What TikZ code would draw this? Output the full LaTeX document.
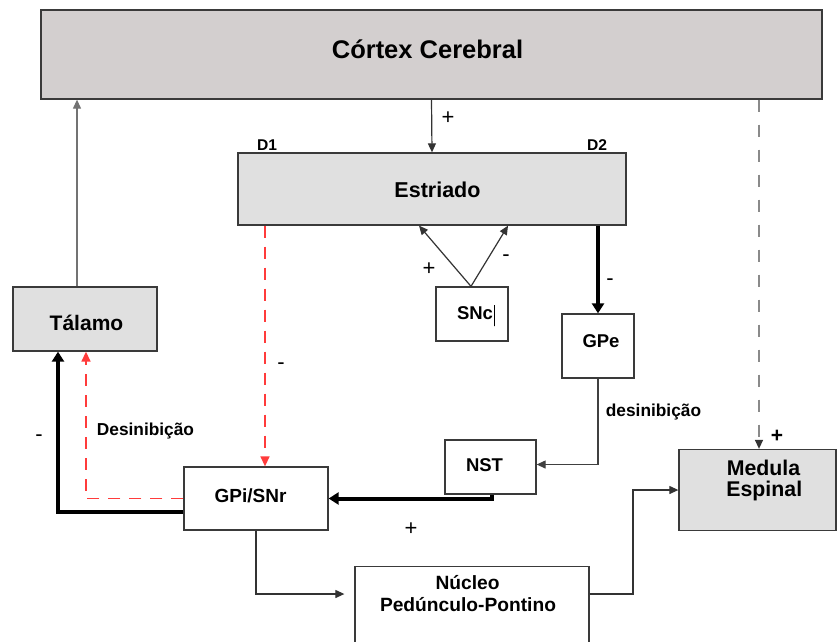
\documentclass[tikz,border=0pt]{standalone}
\usepackage{fontspec}
\setmainfont{Liberation Sans}
\usetikzlibrary{arrows.meta}
\definecolor{cortexgray}{HTML}{D3CFCF}
\definecolor{boxgray}{HTML}{E0E0E0}
\definecolor{bordergray}{HTML}{3A3A3A}
\definecolor{linegray}{HTML}{333333}
\definecolor{dashgray}{HTML}{8A8A8A}
\definecolor{redline}{HTML}{FF3B3B}
\tikzset{
  box/.style={draw=bordergray, line width=1.3pt, inner sep=0pt, fill=white},
  grbox/.style={box, fill=boxgray},
  txt/.style={inner sep=0pt, anchor=base, font=\bfseries\fontsize{19}{22}\selectfont},
  thinarr/.style={draw=linegray, line width=1.2pt, -{Triangle[length=9pt,width=8pt]}},
  thickarr/.style={draw=black, line width=4pt, -{Triangle[length=10pt,width=12pt]}},
  reddash/.style={draw=redline, line width=1.4pt, dash pattern=on 12pt off 9pt, -{Triangle[length=10pt,width=9pt]}},
  graydash/.style={draw=dashgray, line width=1.4pt, dash pattern=on 12pt off 13pt, -{Triangle[length=9pt,width=8pt,fill=black!80,color=black!80]}},
  sign/.style={font=\fontsize{22}{24}\selectfont, inner sep=0pt},
}
\begin{document}
\begin{tikzpicture}[x=1pt,y=-1pt]
\useasboundingbox (0,0) rectangle (837,641);
\fill[white] (0,0) rectangle (837,641);
% boxes
\node[box, fill=cortexgray, minimum width=781pt, minimum height=89pt] (cortex) at (431.5,54.5) {};
\node[grbox, minimum width=388pt, minimum height=72pt] (estr) at (432,189) {};
\node[grbox, minimum width=144pt, minimum height=64pt] (tal) at (85,319) {};
\node[box, minimum width=72pt, minimum height=54pt] (snc) at (472,314) {};
\node[box, minimum width=72pt, minimum height=64pt] (gpe) at (598,346) {};
\node[box, minimum width=91pt, minimum height=54pt] (nst) at (490.5,467) {};
\node[box, minimum width=144pt, minimum height=63pt] (gpi) at (256,498.5) {};
\node[box, minimum width=234pt, minimum height=92pt, anchor=north] (nuc) at (472,566) {};
\node[grbox, minimum width=157pt, minimum height=81pt] (med) at (757.5,490) {};
% texts
\node[txt, font=\bfseries\fontsize{25.5}{28}\selectfont] (cortext) at (427.5,58.3) {Córtex Cerebral};
\node[txt, font=\bfseries\fontsize{21.5}{24}\selectfont] (estrtext) at (437.5,197.7) {Estriado};
\node[txt, font=\bfseries\fontsize{21}{24}\selectfont] (taltext) at (86.5,330) {Tálamo};
\node[txt, font=\bfseries\fontsize{18.5}{22}\selectfont] (snctext) at (475,319) {SNc};
\node[draw=black, line width=0.8pt, inner sep=0pt, minimum width=0pt, minimum height=21pt] (cursor) at (494.5,315.5) {};
\node[txt, font=\bfseries\fontsize{18.5}{22}\selectfont] (gpetext) at (601,347.7) {GPe};
\node[txt, font=\bfseries\fontsize{18.5}{22}\selectfont] (nsttext) at (484.5,471.7) {NST};
\node[txt] (gpitext) at (250.5,502.7) {GPi/SNr};
\node[txt, font=\bfseries\fontsize{19.2}{22}\selectfont] (nuctexta) at (467.5,589) {Núcleo};
\node[txt, font=\bfseries\fontsize{19.2}{22}\selectfont] (nuctextb) at (468,611.7) {Pedúnculo-Pontino};
\node[txt, font=\bfseries\fontsize{21.3}{24}\selectfont] (medtexta) at (763.5,475) {Medula};
\node[txt, font=\bfseries\fontsize{21.3}{24}\selectfont] (medtextb) at (764.3,496.7) {Espinal};
% connectors
\coordinate (nucmid) at (472,594);
\coordinate (jn) at (633,490);
\draw[thinarr] (cortex.south) -- (estr.north);
\draw[thinarr, draw=black!55] ([xshift=-8pt]tal.north) -- ([xshift=-8pt]tal.north |- cortex.south);
\draw[graydash] ([xshift=1.5pt]med.north |- cortex.south) -- ([xshift=1.5pt]med.north);
\draw[thinarr] ([xshift=-1pt]snc.north) -- ([xshift=-13pt]estr.south);
\draw[thinarr] ([xshift=-1pt]snc.north) -- ([xshift=76pt]estr.south);
\draw[thickarr] (estr.south -| gpe.north) -- (gpe.north);
\draw[thinarr, draw=black!75] (gpe.south) |- ([yshift=2.5pt]nst.east);
\draw[thickarr] ([xshift=1.5pt]nst.south) |- (gpi.east);
\draw[reddash] ([xshift=-167pt]estr.south) -- ([xshift=9pt]gpi.north);
\draw[thickarr] ([yshift=-13.5pt]gpi.west) -| ([xshift=-27pt]tal.south);
\draw[reddash] (gpi.west) -| ([xshift=1pt]tal.south);
\draw[thinarr, shorten >=10pt] (gpi.south) |- (nuc.west |- nucmid);
\draw[thinarr] (nuc.east |- nucmid) -| (jn) -- (med.west);
% labels
\node[txt, font=\bfseries\fontsize{15.6}{18}\selectfont] (d1) at (267,150) {D1};
\node[txt, font=\bfseries\fontsize{15.6}{18}\selectfont] (d2) at (597,150) {D2};
\node[sign] (p1) at (448,118) {+};
\node[sign] (p2) at (429,269) {+};
\node[sign] (m1) at (506,258) {-};
\node[sign] (m2) at (610,282) {-};
\node[sign] (m3) at (281,366) {-};
\node[sign] (m4) at (39,438) {-};
\node[sign] (p3) at (411,529) {+};
\node[sign, font=\bfseries\fontsize{21}{24}\selectfont] (p4) at (777,436) {+};
\node[txt, font=\bfseries\fontsize{17.3}{20}\selectfont] (des1) at (145.5,435.7) {Desinibição};
\node[txt, font=\bfseries\fontsize{17.3}{20}\selectfont] (des2) at (653.5,416.7) {desinibição};
\end{tikzpicture}
\end{document}
